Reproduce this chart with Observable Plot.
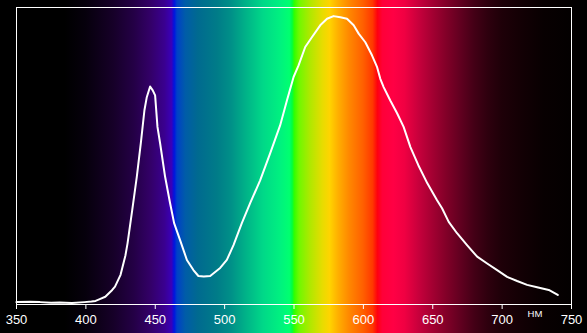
<!DOCTYPE html>
<html>
<head>
<meta charset="utf-8">
<script src="https://cdn.jsdelivr.net/npm/d3@7"></script>
<script src="https://cdn.jsdelivr.net/npm/@observablehq/plot@0.6"></script>
<style>
  html, body { margin: 0; padding: 0; background: #000; }
  svg { display: block; }
</style>
</head>
<body>
<div id="chart"></div>
<script>
// Spectrum curve (wavelength in nm, relative intensity 0–100)
const wavelength = [350, 360, 367, 375, 381, 390, 399, 404, 407, 410, 414, 419, 421, 425, 428.5, 430, 433.4, 436.7, 439.6, 442.2, 443.9, 446.3, 448.2, 449.9, 451.6, 453.5, 457.1, 460.7, 463.6, 467.9, 472.8, 477.5, 481.1, 485, 489.6, 496.8, 501.6, 506.4, 512.4, 518.4, 525.6, 532.8, 540, 544.9, 549.7, 553.3, 558.1, 562.9, 568.9, 573.8, 578.5, 583.4, 588.2, 593, 596.6, 601.4, 606.2, 609.9, 612.2, 614.6, 619.4, 624.3, 629, 633.9, 639.6, 646.1, 653.1, 656.7, 661.5, 667.5, 674.7, 682, 689.2, 696.4, 703.6, 710.8, 718, 725.2, 733.6, 740.1];
const intensity  = [0.8, 0.9, 0.8, 0.6, 0.7, 0.5, 0.8, 1.0, 1.2, 1.8, 2.6, 4.9, 6.0, 10.0, 16.5, 20.5, 31.8, 43.0, 54.3, 65.4, 69.8, 73.4, 72.1, 70.4, 59.8, 54.3, 43.0, 34.1, 27.4, 21.7, 15.0, 11.6, 9.6, 9.4, 9.6, 12.3, 15.0, 20.0, 27.4, 34.1, 41.8, 50.9, 60.3, 68.7, 76.6, 80.5, 86.7, 90.0, 94.0, 96.2, 97.1, 96.7, 96.2, 94.0, 91.2, 88.3, 83.9, 79.9, 76.0, 73.2, 68.7, 64.4, 59.8, 53.0, 46.9, 40.8, 35.1, 32.4, 27.8, 24.0, 20.0, 16.1, 13.8, 11.6, 9.3, 7.9, 6.6, 5.8, 4.9, 3.2];

// Axis ticks
const tickNm = [350, 400, 450, 500, 550, 600, 650, 700, 750];
const unitLabel = "НМ";

// Background spectrum colour stops
const stopNm    = [338, 385, 400, 420, 435, 447, 457, 462, 464, 466, 472, 481, 495, 505, 515, 528, 540, 547, 549, 550.5, 554, 562, 571, 576, 582, 590, 600, 607, 610.5, 614, 622, 630, 640, 650, 660, 670, 680, 690, 700, 715, 730, 750, 762];
const stopColor = ["#000000", "#000000", "#06000c", "#160028", "#240046", "#330068", "#3a0090", "#3a00b8", "#0014e0", "#0040c8", "#005ca8", "#006a90", "#007c88", "#009088", "#00b088", "#00d888", "#00f080", "#00ff70", "#00ff40", "#30ff00", "#70f800", "#b0e800", "#e8dc00", "#ffd400", "#ffb000", "#ff8800", "#ff6000", "#ff3800", "#ff0010", "#ff0038", "#ff0044", "#f00042", "#c8003c", "#a40032", "#820028", "#620020", "#440016", "#2e000e", "#1e0008", "#120004", "#080001", "#030000", "#000000"];

const curve = wavelength.map((w, i) => ({w, v: intensity[i]}));

const plot = Plot.plot({
  width: 587,
  height: 333,
  marginTop: 7,
  marginRight: 16,
  marginBottom: 29,
  marginLeft: 16,
  x: {domain: [350, 750]},
  y: {domain: [0, 100], axis: null},
  style: {background: "#000", color: "#fff", fontFamily: "'Liberation Sans', Arial, sans-serif", fontSize: "13px", overflow: "visible"},
  marks: [
    Plot.rect([0], {x1: stopNm[0], x2: stopNm[stopNm.length - 1], insetTop: -7, insetBottom: -29, fill: "url(#spectrum)"}),
    Plot.line(curve, {x: "w", y: "v", stroke: "#fff", strokeWidth: 2}),
    Plot.frame({stroke: "#fff", strokeWidth: 1}),
    Plot.axisX({ticks: tickNm, tickFormat: d => String(d), tickSize: 5, tickPadding: 5, stroke: "#fff", fill: "#fff", fontSize: 13, label: null}),
    Plot.text([unitLabel], {x: 723.7, frameAnchor: "bottom", dy: 12, fill: "#fff", fontSize: 9.5, text: d => d})
  ]
});

// Build the spectrum gradient aligned to the x scale
const xs = plot.scale("x");
const g0 = xs.apply(stopNm[0]), g1 = xs.apply(stopNm[stopNm.length - 1]);
const svg = d3.select(plot);
const grad = svg.insert("defs", ":first-child")
  .append("linearGradient")
  .attr("id", "spectrum")
  .attr("gradientUnits", "userSpaceOnUse")
  .attr("x1", g0).attr("x2", g1).attr("y1", 0).attr("y2", 0);
stopNm.forEach((nm, i) => {
  grad.append("stop")
    .attr("offset", (nm - stopNm[0]) / (stopNm[stopNm.length - 1] - stopNm[0]))
    .attr("stop-color", stopColor[i]);
});

document.getElementById("chart").appendChild(plot);
</script>
</body>
</html>
